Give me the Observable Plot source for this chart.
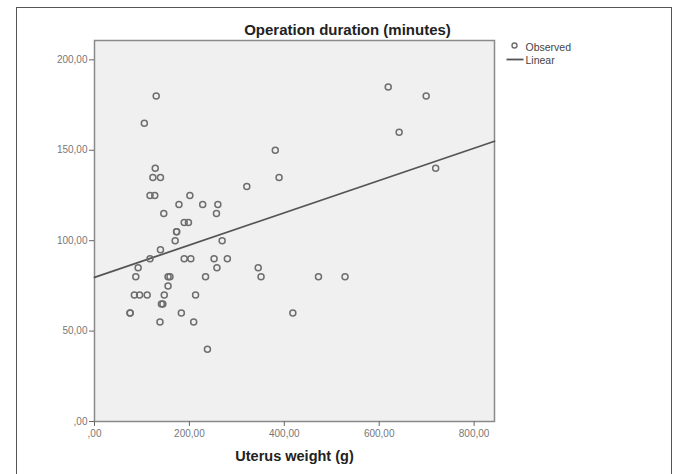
<!DOCTYPE html>
<html>
<head>
<meta charset="utf-8">
<script src="https://cdn.jsdelivr.net/npm/d3@7"></script>
<script src="https://cdn.jsdelivr.net/npm/@observablehq/plot@0.6"></script>
<style>
  html, body { margin: 0; padding: 0; background: #fff; }
  #wrap { position: relative; width: 679px; height: 474px; overflow: hidden; }
  #border { position: absolute; left: 16px; top: 7px; width: 656px; height: 490px; border: 1.5px solid #555; box-sizing: border-box; }
  #chart { position: absolute; left: 0; top: 0; }
</style>
</head>
<body>
<div id="wrap"><div id="border"></div><div id="chart"></div></div>
<script>
const titleText = "Operation duration (minutes)";
const xLabel = "Uterus weight (g)";
const uterusWeight = [130,105,619,699,642,381,719,128,123,139,389,321,117,127,201,178,228,260,146,257,189,198,173,173,170,269,139,117,189,203,252,280,92,258,345,87,155,159,234,351,472,528,155,84,95,111,147,213,141,144,75,75,183,418,138,209,238];
const duration = [180,165,185,180,160,150,140,140,135,135,135,130,125,125,125,120,120,120,115,115,110,110,105,105,100,100,95,90,90,90,90,90,85,85,85,80,80,80,80,80,80,80,75,70,70,70,70,70,65,65,60,60,60,60,55,55,40];
const xTicks = [0,200,400,600,800];
const xTickLabels = [",00","200,00","400,00","600,00","800,00"];
const yTicks = [0,50,100,150,200];
const yTickLabels = [",00","50,00","100,00","150,00","200,00"];
const fitIntercept = 79.7;
const fitSlope = 0.0893;
const legendLabels = ["Observed","Linear"];

const xDomain = [0, 843];
const yDomain = [0, 210.7];

const points = uterusWeight.map((w, i) => ({w, d: duration[i]}));
const fit = xDomain.map(w => ({w, d: fitIntercept + fitSlope * w}));

const chart = Plot.plot({
  width: 679, height: 474,
  marginLeft: 94, marginRight: 185, marginTop: 40, marginBottom: 53,
  style: {fontFamily: "'Liberation Sans', Arial, sans-serif", background: "transparent", overflow: "visible"},
  x: {domain: xDomain},
  y: {domain: yDomain},
  marks: [
    Plot.frame({fill: "#f0f0f0", stroke: "#8a8a8a", strokeWidth: 1.5}),
    Plot.axisX({ticks: xTicks, tickFormat: d => xTickLabels[xTicks.indexOf(d)], tickSize: 5, tickPadding: 3, fontSize: 10, color: "#777", stroke: "#666", label: null}),
    Plot.axisY({ticks: yTicks, tickFormat: d => yTickLabels[yTicks.indexOf(d)], tickSize: 5, tickPadding: 2, fontSize: 10, color: "#777", stroke: "#666", label: null}),
    Plot.line(fit, {x: "w", y: "d", stroke: "#555", strokeWidth: 1.8}),
    Plot.dot(points, {x: "w", y: "d", r: 3, stroke: "#6e6e6e", strokeWidth: 1.5, fill: "none"}),
    Plot.text([titleText], {frameAnchor: "top", lineAnchor: "middle", dx: 53, dy: -10.5, fontSize: 15, fontWeight: "bold", fill: "#222"}),
    Plot.text([xLabel], {frameAnchor: "bottom", lineAnchor: "middle", dy: 35, fontSize: 14.5, fontWeight: "bold", fill: "#222"}),
    Plot.dot([0], {frameAnchor: "top-right", dx: 20, dy: 5, r: 2.5, stroke: "#6e6e6e", strokeWidth: 1.4, fill: "none"}),
    Plot.text([legendLabels[0]], {frameAnchor: "top-right", lineAnchor: "middle", dx: 31, dy: 7, textAnchor: "start", fontSize: 10.5, fill: "#444"}),
    Plot.text([legendLabels[1]], {frameAnchor: "top-right", lineAnchor: "middle", dx: 31, dy: 20, textAnchor: "start", fontSize: 10.5, fill: "#444"})
  ]
});
d3.select(chart).append("line")
  .attr("x1", 506.5).attr("x2", 523.5).attr("y1", 59.5).attr("y2", 59.5)
  .attr("stroke", "#555").attr("stroke-width", 1.8);
document.getElementById("chart").appendChild(chart);
</script>
</body>
</html>
